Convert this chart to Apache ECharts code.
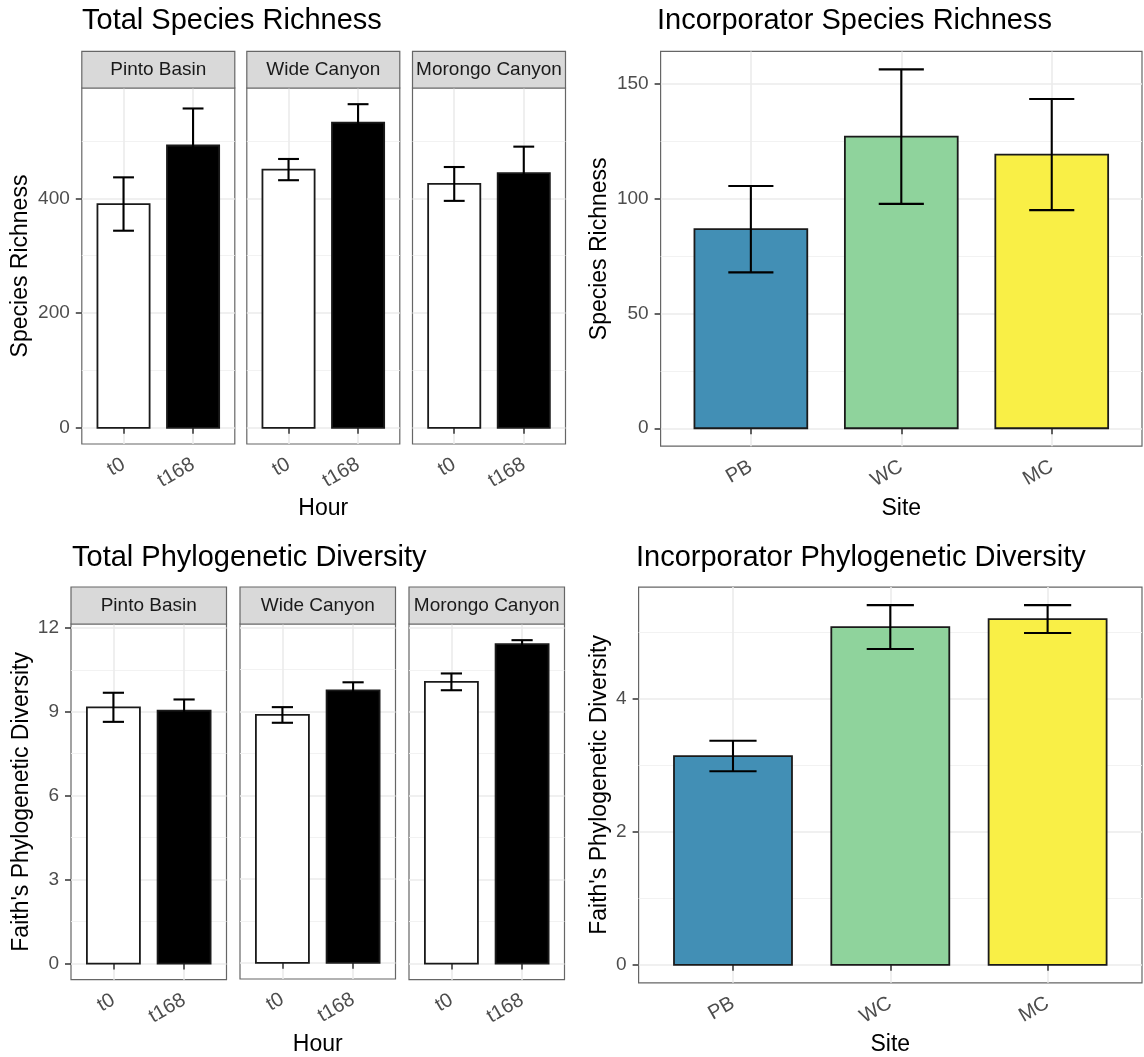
<!DOCTYPE html>
<html lang="en">
<head>
<meta charset="UTF-8">
<title>Species richness and phylogenetic diversity</title>
<script src="https://cdn.jsdelivr.net/npm/echarts@6/dist/echarts.min.js"></script>
<style>
  html, body { margin: 0; padding: 0; background: #fff; }
  #main { width: 1144px; height: 1057px; }
</style>
</head>
<body>
<div id="main"></div>
<script>
// categories
var sites = ['Pinto Basin', 'Wide Canyon', 'Morongo Canyon'];
var siteCodes = ['PB', 'WC', 'MC'];
var hours = ['t0', 't168'];

// total species richness per site (mean, standard error)
var richT0 = [390, 450, 425];
var richT0Se = [46.5, 18.5, 29.5];
var richT168 = [492, 532, 444];
var richT168Se = [64.5, 32, 46];

// total Faith's PD per site
var pdT0 = [9.16, 8.88, 10.07];
var pdT0Se = [0.52, 0.28, 0.30];
var pdT168 = [9.04, 9.76, 11.42];
var pdT168Se = [0.40, 0.29, 0.14];

// incorporators per site
var incRich = [86.7, 127.0, 119.2];
var incRichSe = [18.8, 29.3, 24.2];
var incPd = [3.14, 5.08, 5.20];
var incPdSe = [0.23, 0.33, 0.21];

// y tick labels
var richTicks = [0, 200, 400];
var pdTicks = [0, 3, 6, 9, 12];
var incRichTicks = [0, 50, 100, 150];
var incPdTicks = [0, 2, 4];

var hourFills = ['#ffffff', '#000000'];
var siteFills = ['#428FB5', '#8FD39C', '#F9EF46'];

var FONT = '"Liberation Sans", Arial, Helvetica, sans-serif';
var BAR_W = 0.75, ERR_W = 0.3;

var grids = [], xAxes = [], yAxes = [], series = [], titles = [], graphics = [];

// ggplot style range: 0 .. max(mean + se), expanded by 5%
function yRange(means, ses) {
    var top = 0;
    for (var i = 0; i < means.length; i++) top = Math.max(top, means[i] + ses[i]);
    return [-0.05 * top, 1.05 * top];
}

function minorsOf(ticks, range) {
    var step = ticks[1] - ticks[0];
    return ticks.map(function (t) { return t + step / 2; })
        .filter(function (v) { return v <= range[1]; });
}

function renderBars(bars) {
    return function (params, api) {
        var x = api.value(0), m = api.value(1), se = api.value(2);
        var p0 = api.coord([x - BAR_W / 2, m]);
        var p1 = api.coord([x + BAR_W / 2, 0]);
        var eTop = api.coord([x, m + se]);
        var eBot = api.coord([x, m - se]);
        var wl = api.coord([x - ERR_W / 2, 0])[0];
        var wr = api.coord([x + ERR_W / 2, 0])[0];
        var ls = {stroke: '#000', lineWidth: 2.1};
        return {
            type: 'group',
            children: [
                {type: 'rect', shape: {x: p0[0], y: p0[1], width: p1[0] - p0[0], height: p1[1] - p0[1]},
                    style: {fill: bars[params.dataIndex].fill, stroke: '#1a1a1a', lineWidth: 1.8}},
                {type: 'line', shape: {x1: eTop[0], y1: eTop[1], x2: eBot[0], y2: eBot[1]}, style: ls},
                {type: 'line', shape: {x1: wl, y1: eTop[1], x2: wr, y2: eTop[1]}, style: ls},
                {type: 'line', shape: {x1: wl, y1: eBot[1], x2: wr, y2: eBot[1]}, style: ls}
            ]
        };
    };
}

function addPanel(p) {
    var gi = grids.length;
    grids.push({
        left: p.left, top: p.top, width: p.width, height: p.height,
        show: true, backgroundColor: '#fff', borderColor: '#666', borderWidth: 1.2
    });
    var xs = p.cats.map(function (c, i) { return i + 1; });
    xAxes.push({
        gridIndex: gi, type: 'value', min: 0.4, max: p.cats.length + 0.6,
        axisLine: {show: false},
        axisTick: {show: true, length: 6, customValues: xs, lineStyle: {color: '#333', width: 1.5}},
        axisLabel: {
            customValues: xs, rotate: 30, margin: 19, color: '#4D4D4D', fontSize: 20, fontFamily: FONT,
            formatter: function (v) { return p.cats[Math.round(v) - 1]; }
        },
        splitLine: {show: true, lineStyle: {color: '#EBEBEB', width: 1.6}},
        name: p.xName || '', nameLocation: 'middle', nameGap: p.xNameGap || 50,
        nameTextStyle: {fontSize: 23, color: '#000', fontFamily: FONT}
    });
    var yi = yAxes.length;
    yAxes.push({
        gridIndex: gi, type: 'value', min: p.range[0], max: p.range[1],
        axisLine: {show: false},
        axisTick: {show: p.showY, length: 6, customValues: p.ticks, lineStyle: {color: '#333', width: 1.5}},
        axisLabel: {show: p.showY, customValues: p.ticks, margin: 12, color: '#4D4D4D', fontSize: 19, fontFamily: FONT},
        splitLine: {show: true, lineStyle: {color: '#EBEBEB', width: 1.6}},
        name: p.yName || '', nameLocation: 'middle', nameGap: p.yNameGap || 50,
        nameTextStyle: {fontSize: 23, color: '#000', fontFamily: FONT}
    });
    // minor grid lines
    yAxes.push({
        gridIndex: gi, type: 'value', min: p.range[0], max: p.range[1], position: 'left',
        axisLine: {show: false},
        axisTick: {show: false, customValues: minorsOf(p.ticks, p.range)},
        axisLabel: {show: false},
        splitLine: {show: true, lineStyle: {color: '#F0F0F0', width: 0.9}}
    });
    series.push({
        type: 'custom', xAxisIndex: gi, yAxisIndex: yi, z: 3,
        data: p.bars.map(function (b) { return [b.x, b.mean, b.se]; }),
        renderItem: renderBars(p.bars)
    });
    if (p.strip) {
        graphics.push({
            type: 'rect', z: 10,
            shape: {x: p.left, y: p.stripTop, width: p.width, height: p.top - p.stripTop},
            style: {fill: '#D9D9D9', stroke: '#666', lineWidth: 1.2}
        });
        graphics.push({
            type: 'text', z: 11,
            x: p.left + p.width / 2, y: (p.stripTop + p.top) / 2,
            style: {text: p.strip, fill: '#1A1A1A', font: '19px ' + FONT, align: 'center', verticalAlign: 'middle'}
        });
    }
}

function addTitle(text, left, top) {
    titles.push({
        text: text, left: left, top: top, padding: 0,
        textStyle: {fontSize: 29, fontWeight: 'normal', color: '#000', fontFamily: FONT}
    });
}

// --- top left: total species richness, faceted by site
var rangeRich = yRange(richT0.concat(richT168), richT0Se.concat(richT168Se));
var p1Lefts = [81.8, 246.8, 412.5];
sites.forEach(function (s, i) {
    addPanel({
        left: p1Lefts[i], top: 88, width: 153, height: 356, stripTop: 51.4, strip: s,
        cats: hours, range: rangeRich, ticks: richTicks, showY: i === 0,
        yName: i === 0 ? 'Species Richness' : '', yNameGap: 50,
        xName: i === 1 ? 'Hour' : '', xNameGap: 53,
        bars: [
            {x: 1, mean: richT0[i], se: richT0Se[i], fill: hourFills[0]},
            {x: 2, mean: richT168[i], se: richT168Se[i], fill: hourFills[1]}
        ]
    });
});
addTitle('Total Species Richness', 82, 6);

// --- top right: incorporator species richness
addPanel({
    left: 660.6, top: 51.4, width: 481.4, height: 394.8,
    cats: siteCodes, range: yRange(incRich, incRichSe), ticks: incRichTicks, showY: true,
    yName: 'Species Richness', yNameGap: 49.5, xName: 'Site', xNameGap: 51,
    bars: siteCodes.map(function (c, i) {
        return {x: i + 1, mean: incRich[i], se: incRichSe[i], fill: siteFills[i]};
    })
});
addTitle('Incorporator Species Richness', 657, 6);

// --- bottom left: total phylogenetic diversity, faceted by site
var rangePd = yRange(pdT0.concat(pdT168), pdT0Se.concat(pdT168Se));
var p3Lefts = [71, 240, 409];
sites.forEach(function (s, i) {
    addPanel({
        left: p3Lefts[i], top: 624, width: 155.5, height: 355.7, stripTop: 587, strip: s,
        cats: hours, range: rangePd, ticks: pdTicks, showY: i === 0,
        yName: i === 0 ? "Faith's Phylogenetic Diversity" : '', yNameGap: 38,
        xName: i === 1 ? 'Hour' : '', xNameGap: 54,
        bars: [
            {x: 1, mean: pdT0[i], se: pdT0Se[i], fill: hourFills[0]},
            {x: 2, mean: pdT168[i], se: pdT168Se[i], fill: hourFills[1]}
        ]
    });
});
addTitle('Total Phylogenetic Diversity', 72, 543);

// --- bottom right: incorporator phylogenetic diversity
addPanel({
    left: 638.6, top: 587.1, width: 503.4, height: 395.7,
    cats: siteCodes, range: yRange(incPd, incPdSe), ticks: incPdTicks, showY: true,
    yName: "Faith's Phylogenetic Diversity", yNameGap: 27.5, xName: 'Site', xNameGap: 50,
    bars: siteCodes.map(function (c, i) {
        return {x: i + 1, mean: incPd[i], se: incPdSe[i], fill: siteFills[i]};
    })
});
addTitle('Incorporator Phylogenetic Diversity', 636, 543);

var myChart = echarts.init(document.getElementById('main'));
myChart.setOption({
    animation: false,
    backgroundColor: '#fff',
    textStyle: {fontFamily: FONT},
    title: titles,
    grid: grids,
    xAxis: xAxes,
    yAxis: yAxes,
    series: series,
    graphic: graphics
});
</script>
</body>
</html>
